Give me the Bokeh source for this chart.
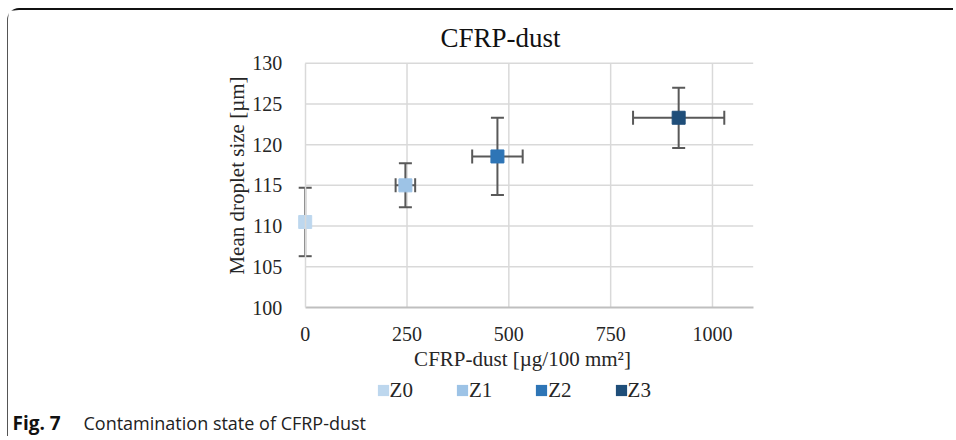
from bokeh.plotting import figure
from bokeh.models import (Range1d, ColumnDataSource, Whisker, TeeHead, Label, Legend,
                          LegendItem, FixedTicker)
from bokeh.embed import file_html
from bokeh.resources import INLINE

# ---- data ----
states = ["Z0", "Z1", "Z2", "Z3"]
dust = [0, 246, 472, 917]                  # CFRP-dust [µg/100 mm²]
dust_err = [0, 24, 62, 112]
droplet = [110.5, 115.0, 118.55, 123.3]    # mean droplet size [µm]
droplet_err = [4.2, 2.7, 4.75, 3.7]
colors = ["#BDD7EE", "#9DC3E6", "#2E75B6", "#1F4E79"]
x_ticks = [0, 250, 500, 750, 1000]
y_ticks = [100, 105, 110, 115, 120, 125, 130]
x_axis_min, x_axis_max = 0, 1100
y_axis_min, y_axis_max = 100, 130

SERIF = "Liberation Serif"
TXT = "#262626"

# ---- geometry (canvas pixels) ----
W, H = 946, 428
OX, OY = 8, 10                 # canvas origin on page (margin + border)
PL, PR = 304.7 - OX, 752.7 - OX   # plot-area left/right
PT, PB = 62.7 - OY, 307.0 - OY    # plot-area top/bottom
kx = (PR - PL) / (x_axis_max - x_axis_min)
ky = (PB - PT) / (y_axis_max - y_axis_min)
xr = Range1d(x_axis_min - PL / kx, x_axis_max + (W - PR) / kx)
yr = Range1d(y_axis_min - (H - PB) / ky, y_axis_max + PT / ky)

def sx(px):  # page x -> label screen x
    return px - OX
def sy(py):  # page y -> label screen y (from bottom)
    return H - (py - OY)

p = figure(width=W, height=H, output_backend="svg", toolbar_location=None,
           x_range=xr, y_range=yr, min_border=0)
p.margin = (8, 0, 0, 7)
p.title = None
p.outline_line_color = None
p.background_fill_color = "white"
p.border_fill_color = "white"
p.styles = {"border-top": "2px solid #111", "border-left": "1px solid #555",
            "border-top-left-radius": "12px"}
p.grid.visible = False

# axes fixed at the plot-area edges
p.xaxis.fixed_location = y_axis_min
p.xaxis.bounds = (x_axis_min, x_axis_max)
p.yaxis.fixed_location = x_axis_min
p.yaxis.bounds = (y_axis_min, y_axis_max)
for ax in (p.xaxis[0], p.yaxis[0]):
    ax.major_tick_line_color = None
    ax.minor_tick_line_color = None
    ax.major_label_text_font = SERIF
    ax.major_label_text_font_size = "20px"
    ax.major_label_text_color = TXT
p.xaxis.ticker = FixedTicker(ticks=x_ticks)
p.yaxis.ticker = FixedTicker(ticks=y_ticks)
p.xaxis.axis_line_color = "#BFBFBF"
p.xaxis.axis_line_width = 2
p.yaxis.axis_line_color = "#D9D9D9"
p.yaxis.axis_line_width = 1.5
p.xaxis.major_label_standoff = 13
p.yaxis.major_label_standoff = 17

# gridlines from the tick arrays
GC = "#D9D9D9"
p.segment(x0=x_ticks[1:], x1=x_ticks[1:], y0=[y_axis_min] * (len(x_ticks) - 1),
          y1=[y_axis_max] * (len(x_ticks) - 1), line_color=GC, line_width=1.5, level="underlay")
p.segment(x0=[x_axis_min] * (len(y_ticks) - 1), x1=[x_axis_max] * (len(y_ticks) - 1),
          y0=y_ticks[1:], y1=y_ticks[1:], line_color=GC, line_width=1.5, level="underlay")

src = ColumnDataSource(dict(
    x=dust, y=droplet, c=colors, s=states,
    yl=[v - e for v, e in zip(droplet, droplet_err)],
    yu=[v + e for v, e in zip(droplet, droplet_err)],
))
xe_idx = [i for i, e in enumerate(dust_err) if e > 0]
src_x = ColumnDataSource(dict(
    y=[droplet[i] for i in xe_idx],
    xl=[dust[i] - dust_err[i] for i in xe_idx],
    xu=[dust[i] + dust_err[i] for i in xe_idx],
))

EC = "#595959"
def head(sz):
    return TeeHead(size=sz, line_color=EC, line_width=2)

p.add_layout(Whisker(source=src, base="x", lower="yl", upper="yu", dimension="height",
                     line_color=EC, line_width=2, upper_head=head(13), lower_head=head(13)))
p.add_layout(Whisker(source=src_x, base="y", lower="xl", upper="xu", dimension="width",
                     line_color=EC, line_width=2, upper_head=head(14), lower_head=head(14)))

p.scatter("x", "y", source=src, marker="square", size=13, fill_color="c", line_color="c")

# legend swatches (zero-area quads at each point, used only for the legend)
items = []
for xv, yv, st, c in zip(dust, droplet, states, colors):
    r = p.quad(left=[xv], right=[xv], top=[yv], bottom=[yv], fill_color=c, line_color=None,
               level="underlay")
    items.append(LegendItem(label=st, renderers=[r]))
leg = Legend(items=items, orientation="horizontal", location=(sx(375.6), sy(402.5)),
             glyph_width=14, glyph_height=14, label_standoff=0, spacing=42,
             padding=0, margin=0, border_line_color=None, background_fill_alpha=0,
             label_text_font=SERIF, label_text_font_size="21px", label_text_color=TXT)
p.add_layout(leg, "center")

# title and axis titles (baselines corrected for renderer offset)
p.add_layout(Label(x=sx(500), y=sy(37.5), x_units="screen", y_units="screen",
                   text="CFRP-dust", text_font=SERIF, text_font_size="27px",
                   text_color="#111", text_align="center", text_baseline="alphabetic"))
p.add_layout(Label(x=sx(522), y=sy(358), x_units="screen", y_units="screen",
                   text="CFRP-dust [µg/100 mm²]", text_font=SERIF, text_font_size="21px",
                   text_color=TXT, text_align="center", text_baseline="alphabetic"))
p.add_layout(Label(x=sx(236), y=sy(175), x_units="screen", y_units="screen",
                   text="Mean droplet size [µm]", text_font=SERIF, text_font_size="21px",
                   text_color=TXT, text_align="center", text_baseline="alphabetic",
                   angle=90, angle_units="deg"))

# caption
p.add_layout(Label(x=sx(12), y=sy(422), x_units="screen", y_units="screen",
                   text="Fig. 7", text_font="Open Sans", text_font_style="bold",
                   text_font_size="19px", text_color="#111", text_baseline="alphabetic"))
p.add_layout(Label(x=sx(83), y=sy(422), x_units="screen", y_units="screen",
                   text="Contamination state of CFRP-dust", text_font="Open Sans",
                   text_font_size="18px", text_color="#222", text_baseline="alphabetic"))

open("out.html", "w").write(file_html(p, INLINE))
